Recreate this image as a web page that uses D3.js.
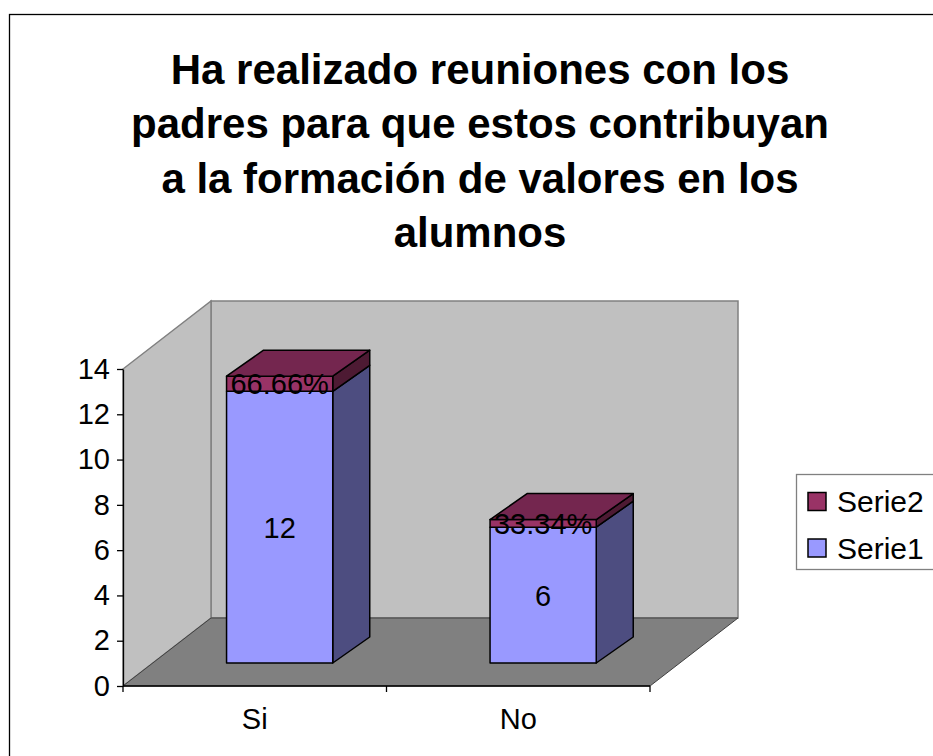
<!DOCTYPE html>
<html>
<head>
<meta charset="utf-8">
<script src="https://cdnjs.cloudflare.com/ajax/libs/d3/7.8.5/d3.min.js"></script>
<style>
  body { margin: 0; background: #fff; }
  svg { display: block; font-family: "Liberation Sans", Arial, sans-serif; }
</style>
</head>
<body>
<div id="chart"></div>
<script>
// ---- data ----
var vsTitle = ["Ha realizado reuniones con los",
               "padres para que estos contribuyan",
               "a la formación de valores en los",
               "alumnos"];
var vsCategories = ["Si", "No"];
var vnSerie1 = [12, 6];
var vnSerie2 = [0.6666, 0.3334];
var vsSerie1Labels = ["12", "6"];
var vsSerie2Labels = ["66.66%", "33.34%"];
var vsSeries = ["Serie2", "Serie1"];
var vnTicks = [0, 2, 4, 6, 8, 10, 12, 14];

// ---- layout ----
var W = 933, H = 756;
var AXIS_X0 = 123, AXIS_X1 = 650;
var AXIS_Y0 = 686, AXIS_Y1 = 369;
var DEPTH_X = 88, DEPTH_Y = -68;      // floor / wall depth
var BAR_DY = -23;                     // bar front plane offset
var BAR_DEPTH_X = 37, BAR_DEPTH_Y = -26;
var FONT_SIZE = 29;

var COLOR_S1 = "#9999ff", COLOR_S1_SIDE = "#4d4d80";
var COLOR_S2 = "#993366", COLOR_S2_TOP = "#74264f", COLOR_S2_SIDE = "#4d1a33";

var svg = d3.select("#chart").append("svg")
              .attr("width", W)
              .attr("height", H);

// chart border
svg.append("rect")
      .attr("x", 9.5).attr("y", 14.5)
      .attr("width", W + 20).attr("height", H + 20)
      .attr("fill", "none")
      .attr("stroke", "#000")
      .attr("stroke-width", 1.3);

// ---- title ----
svg.append("g")
      .selectAll("text")
      .data(vsTitle)
      .enter()
      .append("text")
        .attr("x", 480)
        .attr("y", function (d, i) { return 84 + i * 54.3; })
        .attr("text-anchor", "middle")
        .attr("font-size", 42)
        .attr("font-weight", "bold")
        .text(function (d) { return d; });

// ---- scales ----
var fScale_X = d3.scaleBand()
                    .domain(vsCategories)
                    .range([AXIS_X0, AXIS_X1]);

var fScale_Y = d3.scaleLinear()
                    .domain([0, 14])
                    .range([AXIS_Y0, AXIS_Y1]);

function pts(a) { return a.map(function (p) { return p.join(","); }).join(" "); }

var yTop = fScale_Y(14), yBot = fScale_Y(0);

// ---- walls & floor ----
var gWalls = svg.append("g");

// back wall
gWalls.append("polygon")
        .attr("points", pts([[AXIS_X0 + DEPTH_X, yTop + DEPTH_Y], [AXIS_X1 + DEPTH_X, yTop + DEPTH_Y],
                             [AXIS_X1 + DEPTH_X, yBot + DEPTH_Y], [AXIS_X0 + DEPTH_X, yBot + DEPTH_Y]]))
        .attr("fill", "#c0c0c0")
        .attr("stroke", "#808080")
        .attr("stroke-width", 1.5);

// side wall
gWalls.append("polygon")
        .attr("points", pts([[AXIS_X0, yBot], [AXIS_X0, yTop],
                             [AXIS_X0 + DEPTH_X, yTop + DEPTH_Y], [AXIS_X0 + DEPTH_X, yBot + DEPTH_Y]]))
        .attr("fill", "#c0c0c0")
        .attr("stroke", "#808080")
        .attr("stroke-width", 1.5);

// floor
gWalls.append("polygon")
        .attr("points", pts([[AXIS_X0, yBot], [AXIS_X1, yBot],
                             [AXIS_X1 + DEPTH_X, yBot + DEPTH_Y], [AXIS_X0 + DEPTH_X, yBot + DEPTH_Y]]))
        .attr("fill", "#808080")
        .attr("stroke", "#404040")
        .attr("stroke-width", 1);

// ---- bars ----
var gBars = svg.append("g").attr("stroke", "#000").attr("stroke-width", 1.5).attr("stroke-linejoin", "round");

function funcDraw_Box(g, x0, x1, y0, y1, cFront, cSide, cTop) {

    // side
    g.append("polygon")
        .attr("points", pts([[x1, y0], [x1, y1], [x1 + BAR_DEPTH_X, y1 + BAR_DEPTH_Y], [x1 + BAR_DEPTH_X, y0 + BAR_DEPTH_Y]]))
        .attr("fill", cSide);

    // front
    g.append("rect")
        .attr("x", x0).attr("y", y1)
        .attr("width", x1 - x0).attr("height", y0 - y1)
        .attr("fill", cFront);

    if (cTop)
        g.append("polygon")
            .attr("points", pts([[x0, y1], [x1, y1], [x1 + BAR_DEPTH_X, y1 + BAR_DEPTH_Y], [x0 + BAR_DEPTH_X, y1 + BAR_DEPTH_Y]]))
            .attr("fill", cTop);
}

var bw = fScale_X.bandwidth();

for (var i = 0; i < vsCategories.length; i++) {

    var x0 = fScale_X(vsCategories[i]) + bw * 0.393;
    var x1 = x0 + bw * 0.403;

    var yS1_0 = fScale_Y(0) + BAR_DY;
    var yS1_1 = fScale_Y(vnSerie1[i]) + BAR_DY;
    var yS2_1 = fScale_Y(vnSerie1[i] + vnSerie2[i]) + BAR_DY;

    funcDraw_Box(gBars, x0, x1, yS1_0, yS1_1, COLOR_S1, COLOR_S1_SIDE, null);
    funcDraw_Box(gBars, x0, x1, yS1_1, yS2_1, COLOR_S2, COLOR_S2_SIDE, COLOR_S2_TOP);

    svg.append("text")
          .attr("x", (x0 + x1) / 2)
          .attr("y", (yS1_0 + yS1_1) / 2)
          .attr("dy", "0.36em")
          .attr("text-anchor", "middle")
          .attr("font-size", FONT_SIZE)
          .text(vsSerie1Labels[i]);

    svg.append("text")
          .attr("x", (x0 + x1) / 2)
          .attr("y", (yS1_1 + yS2_1) / 2)
          .attr("dy", "0.36em")
          .attr("text-anchor", "middle")
          .attr("font-size", FONT_SIZE)
          .text(vsSerie2Labels[i]);
}

// ---- axes ----
var gAxisY = svg.append("g")
                 .attr("transform", "translate(" + AXIS_X0 + ",0)")
                 .call(d3.axisLeft(fScale_Y).tickValues(vnTicks).tickSize(6).tickPadding(7).tickSizeOuter(0));

gAxisY.selectAll("text").attr("font-size", FONT_SIZE).attr("font-family", "Liberation Sans, Arial, sans-serif").attr("fill", "#000");
gAxisY.selectAll("line, path").attr("stroke", "#000").attr("stroke-width", 1.3);

var gAxisX = svg.append("g");

gAxisX.append("line")
        .attr("x1", AXIS_X0).attr("x2", AXIS_X1)
        .attr("y1", yBot).attr("y2", yBot)
        .attr("stroke", "#000").attr("stroke-width", 1.3);

var vnEdges = vsCategories.map(function (d) { return fScale_X(d); }).concat([AXIS_X1]);

gAxisX.selectAll("line.tick")
        .data(vnEdges)
        .enter()
        .append("line")
          .attr("class", "tick")
          .attr("x1", function (d) { return d; }).attr("x2", function (d) { return d; })
          .attr("y1", yBot).attr("y2", yBot + 6)
          .attr("stroke", "#000").attr("stroke-width", 1.3);

gAxisX.selectAll("text")
        .data(vsCategories)
        .enter()
        .append("text")
          .attr("x", function (d) { return fScale_X(d) + bw / 2; })
          .attr("y", 729)
          .attr("text-anchor", "middle")
          .attr("font-size", FONT_SIZE)
          .text(function (d) { return d; });

// ---- legend ----
var gLegend = svg.append("g");

gLegend.append("rect")
         .attr("x", 796.5).attr("y", 474.5)
         .attr("width", 200).attr("height", 95)
         .attr("fill", "#fff")
         .attr("stroke", "#808080")
         .attr("stroke-width", 1.3);

var vcLegend = [COLOR_S2, COLOR_S1];

vsSeries.forEach(function (s, i) {

    var cy = 501.5 + i * 46.5;

    gLegend.append("rect")
             .attr("x", 808).attr("y", cy - 9)
             .attr("width", 18).attr("height", 18)
             .attr("fill", vcLegend[i])
             .attr("stroke", "#000")
             .attr("stroke-width", 1.5);

    gLegend.append("text")
             .attr("x", 837).attr("y", cy)
             .attr("dy", "0.36em")
             .attr("font-size", 30)
             .text(s);
});
</script>
</body>
</html>
